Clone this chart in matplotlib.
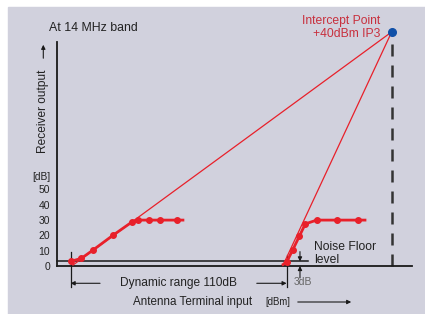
import matplotlib
matplotlib.use("Agg")
import matplotlib.pyplot as plt
from matplotlib.patches import Rectangle, FancyArrowPatch

plt.rcParams['font.family'] = ['Liberation Sans', 'DejaVu Sans']

# ---- data (input dBm, output dB) ----
left_in = [-123.5, -118, -112, -102, -92, -89, -83.5, -78, -69.3, -66.3]
left_out = [3, 5, 10.5, 20, 29, 30, 30, 30, 30, 30]
right_in = [-15.3, -13.5, -10.4, -7.0, -4.0, 1.8, 12.1, 22.8, 26.4]
right_out = [1, 2.5, 10.5, 19.5, 27.5, 30, 30, 30, 30]
fund_in = [-122.3, 40]
fund_out = [0.6, 153]
im3_in = [-15.3, 40]
im3_out = [0.6, 153]
ip3 = (40, 153)
noise_floor = 3
nf_end = -2.5
dr_left, dr_right = -123.5, -13.5
yticks = [0, 10, 20, 30, 40, 50]

W, H = 425, 314
fig = plt.figure(figsize=(W / 100, H / 100), dpi=100)
fig.patch.set_facecolor('white')
bg = '#d1d1dd'
fig.patches.append(Rectangle((8 / W, 0), (W - 8) / W, (H - 7) / H,
                             transform=fig.transFigure, color=bg, zorder=-5))

def P(x, y):
    return (x / W, 1 - y / H)

ax = fig.add_axes([57 / W, (H - 266) / H, (412 - 57) / W, (266 - 42) / H])
ax.set_facecolor('none')
ax.set_xlim(-130.42, 50.34)
ax.set_ylim(0, 146.4)
for s in ['top', 'right']:
    ax.spines[s].set_visible(False)
for s in ['left', 'bottom']:
    ax.spines[s].set_linewidth(1.3)
    ax.spines[s].set_color('#1a1a1a')
ax.set_xticks([])
ax.set_yticks(yticks)
ax.set_yticklabels([str(v) for v in yticks], fontsize=7.5, color='#222222')
ax.tick_params(axis='y', length=0, pad=5)

red = '#e8202a'
# thin extrapolated lines
ax.plot(fund_in, fund_out, color=red, lw=0.9, clip_on=False, zorder=3)
ax.plot(im3_in, im3_out, color=red, lw=0.9, clip_on=False, zorder=3)
# measured curves
ax.plot(left_in, left_out, color=red, lw=2.0, marker='o', ms=4,
        markevery=list(range(9)), clip_on=False, zorder=4)
ax.plot(right_in, right_out, color=red, lw=2.0, marker='o', ms=4,
        markevery=list(range(1, 8)), clip_on=False, zorder=4)
# intercept dashed line and dot
ax.plot([ip3[0], ip3[0]], [0, ip3[1] - 4], color='#333333', lw=1.8,
        ls=(0, (4.8, 3.6)), clip_on=False, zorder=2)
ax.plot([ip3[0]], [ip3[1]], 'o', color='#1050a8', ms=5.5, clip_on=False, zorder=5)

# noise floor line
ax.plot([-130.42, nf_end], [noise_floor, noise_floor], color='#1a1a1a', lw=1.1,
        clip_on=False, zorder=2)

# dynamic range markers
ax.plot([dr_left, dr_left], [9.3, -13.5], color='#1a1a1a', lw=0.9, clip_on=False)
ax.plot([dr_right, dr_right], [7.2, -13.5], color='#1a1a1a', lw=0.9, clip_on=False)
arr = dict(arrowstyle='-|>', lw=0.8, color='#1a1a1a', mutation_scale=6,
           shrinkA=0, shrinkB=0)
ax.annotate('', xy=(dr_left, -11.3), xytext=(-108.5, -11.3), arrowprops=arr,
            annotation_clip=False)
ax.annotate('', xy=(dr_right, -11.3), xytext=(-28.7, -11.3), arrowprops=arr,
            annotation_clip=False)
ax.text((dr_left + dr_right) / 2, -11.3, 'Dynamic range 110dB', ha='center',
        va='center', fontsize=8.6, color='#222222', clip_on=False)

# 3dB arrows
ax.annotate('', xy=(-6.7, noise_floor), xytext=(-6.7, 9.4), arrowprops=arr,
            annotation_clip=False)
ax.annotate('', xy=(-6.7, 0), xytext=(-6.7, -7.8), arrowprops=arr,
            annotation_clip=False)
ax.text(-10.1, -10.7, '3dB', ha='left', va='center', fontsize=7.5,
        color='#666666', clip_on=False)

# texts in figure pixel positions
tc = '#222222'
fig.text(*P(314, 247.5), 'Noise Floor', fontsize=8.7, color=tc, va='center', ha='left')
fig.text(*P(314, 260), 'level', fontsize=8.7, color=tc, va='center', ha='left')
fig.text(*P(133, 301.7), 'Antenna Terminal input', fontsize=8.4, color=tc,
         va='center', ha='left')
fig.text(*P(265, 301.7), '[dBm]', fontsize=6.9, color=tc, va='center', ha='left')
fig.patches.append(FancyArrowPatch(P(295, 302), P(354, 302),
                   transform=fig.transFigure, arrowstyle='-|>', lw=0.8,
                   color='#1a1a1a', mutation_scale=6))
fig.text(*P(49, 27.7), 'At 14 MHz band', fontsize=8.9, color=tc, va='center', ha='left')
ic = '#c8303e'
fig.text(*P(380, 20.7), 'Intercept Point', fontsize=8.7, color=ic, va='center', ha='right')
fig.text(*P(380, 34.3), '+40dBm IP3', fontsize=8.7, color=ic, va='center', ha='right')
fig.text(*P(43.3, 111), 'Receiver output', fontsize=8.6, color=tc, va='center',
         ha='center', rotation=90)
fig.patches.append(FancyArrowPatch(P(43.3, 61), P(43.3, 42),
                   transform=fig.transFigure, arrowstyle='-|>', lw=0.8,
                   color='#1a1a1a', mutation_scale=6))
fig.text(*P(41.7, 176.7), '[dB]', fontsize=7.3, color=tc, va='center', ha='center')

fig.savefig('out.png', dpi=100, facecolor=fig.get_facecolor())
